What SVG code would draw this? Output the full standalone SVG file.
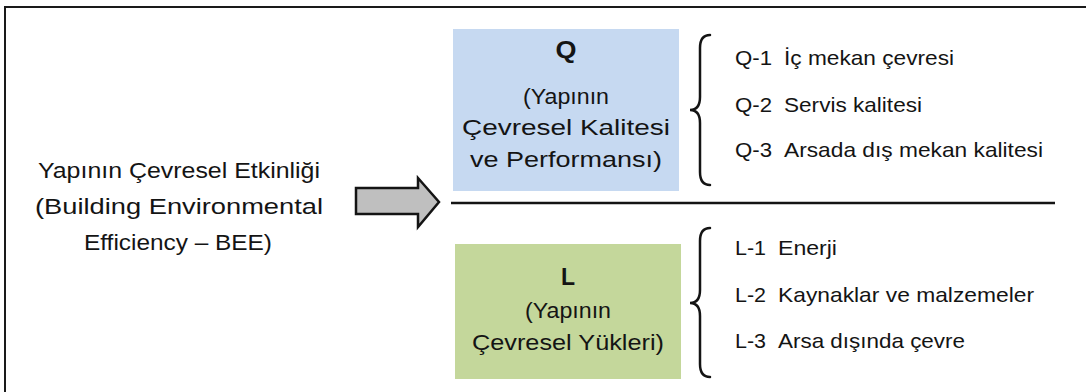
<svg xmlns="http://www.w3.org/2000/svg" width="1086" height="392" viewBox="0 0 1086 392">
  <style>
    .t { font-family: "Liberation Sans", Arial, sans-serif; fill: #141414; }
    .big { font-size: 22.5px; }
    .lst { font-size: 21px; }
    .hd { font-size: 23px; font-weight: bold; }
    .line { stroke: #141414; stroke-width: 2.5; fill: none; }
    .brace { stroke: #141414; stroke-width: 2.5; fill: none; stroke-linecap: round; }
  </style>
  <rect width="1086" height="392" fill="#ffffff"/>
  <polyline points="5,392 5,7 1086,7" fill="none" stroke="#1a1a1a" stroke-width="2"/>

  <g id="bee">
    <text class="t big" text-anchor="middle" x="179" y="178" textLength="282" lengthAdjust="spacingAndGlyphs">Yapının Çevresel Etkinliği</text>
    <text class="t big" text-anchor="middle" x="179" y="214" textLength="288" lengthAdjust="spacingAndGlyphs">(Building Environmental</text>
    <text class="t big" text-anchor="middle" x="178" y="250" textLength="188" lengthAdjust="spacingAndGlyphs">Efficiency – BEE)</text>
  </g>

  <g id="q-box">
    <rect x="453" y="29" width="226" height="162" fill="#c6d9f1"/>
    <text class="t hd" text-anchor="middle" x="566" y="58" textLength="21" lengthAdjust="spacingAndGlyphs">Q</text>
    <text class="t big" text-anchor="middle" x="566" y="104" textLength="86" lengthAdjust="spacingAndGlyphs">(Yapının</text>
    <text class="t big" text-anchor="middle" x="566" y="135" textLength="208" lengthAdjust="spacingAndGlyphs">Çevresel Kalitesi</text>
    <text class="t big" text-anchor="middle" x="566" y="167" textLength="192" lengthAdjust="spacingAndGlyphs">ve Performansı)</text>
  </g>

  <g id="l-box">
    <rect x="455" y="244" width="226" height="135" fill="#c4d79b"/>
    <text class="t hd" text-anchor="middle" x="568" y="285">L</text>
    <text class="t big" text-anchor="middle" x="568" y="318" textLength="86" lengthAdjust="spacingAndGlyphs">(Yapının</text>
    <text class="t big" text-anchor="middle" x="568" y="350" textLength="192" lengthAdjust="spacingAndGlyphs">Çevresel Yükleri)</text>
  </g>

  <g id="q-list">
    <path class="brace" d="M710,35 Q700,35 700,48 L700,97 Q700,110 690,110 Q700,110 700,123 L700,172 Q700,185 710,185"/>
    <text class="t lst" x="735" y="65" textLength="37" lengthAdjust="spacingAndGlyphs">Q-1</text>
    <text class="t lst" x="784" y="65" textLength="170" lengthAdjust="spacingAndGlyphs">İç mekan çevresi</text>
    <text class="t lst" x="735" y="112" textLength="37" lengthAdjust="spacingAndGlyphs">Q-2</text>
    <text class="t lst" x="784" y="112" textLength="138" lengthAdjust="spacingAndGlyphs">Servis kalitesi</text>
    <text class="t lst" x="735" y="157" textLength="37" lengthAdjust="spacingAndGlyphs">Q-3</text>
    <text class="t lst" x="784" y="157" textLength="259" lengthAdjust="spacingAndGlyphs">Arsada dış mekan kalitesi</text>
  </g>

  <g id="l-list">
    <path class="brace" d="M710,228 Q700,228 700,241 L700,290 Q700,303 690,303 Q700,303 700,316 L700,364 Q700,377 710,377"/>
    <text class="t lst" x="735" y="255" textLength="31" lengthAdjust="spacingAndGlyphs">L-1</text>
    <text class="t lst" x="778" y="255" textLength="59" lengthAdjust="spacingAndGlyphs">Enerji</text>
    <text class="t lst" x="735" y="302" textLength="31" lengthAdjust="spacingAndGlyphs">L-2</text>
    <text class="t lst" x="778" y="302" textLength="256" lengthAdjust="spacingAndGlyphs">Kaynaklar ve malzemeler</text>
    <text class="t lst" x="735" y="348" textLength="31" lengthAdjust="spacingAndGlyphs">L-3</text>
    <text class="t lst" x="778" y="348" textLength="187" lengthAdjust="spacingAndGlyphs">Arsa dışında çevre</text>
  </g>

  <g id="connectors">
    <path d="M356,188 L418,188 L418,178 L439,202 L418,227 L418,214 L356,214 Z" fill="#bfbfbf" stroke="#141414" stroke-width="2.5" stroke-linejoin="miter"/>
    <line class="line" x1="451" y1="203" x2="1055" y2="203" stroke-width="3"/>
  </g>
</svg>
